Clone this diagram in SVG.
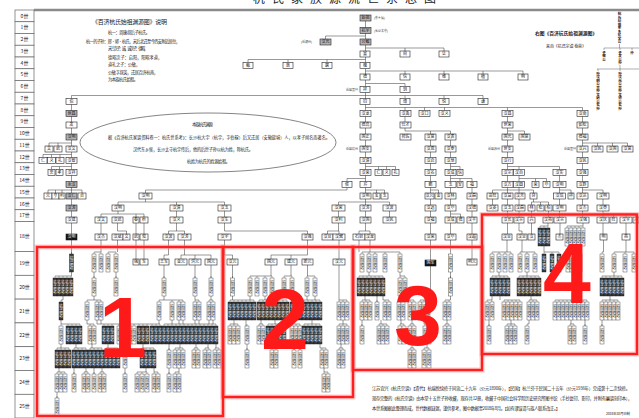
<svg xmlns="http://www.w3.org/2000/svg" width="639" height="418" viewBox="0 0 639 418">
<style>
.gc rect{fill:#fff;stroke:#666;stroke-width:.7}
.gc text{font-family:"Noto Sans CJK SC",sans-serif;font-size:5px;text-anchor:middle;fill:#222}
.n rect{fill:#fff;stroke:#222;stroke-width:.6}
.n text{font-family:"Noto Sans CJK SC",sans-serif;font-size:4px;text-anchor:middle;fill:#111}
.g rect{fill:#b4b4b4}
.k2 rect{fill:#111}.k2 text{fill:#fff}
.c path{fill:none;stroke:#333;stroke-width:.5}
.tk{fill:none;stroke:#333;stroke-width:.4}
.sr{fill:#fff;stroke:#333;stroke-width:.4}
.kr{fill:#3a3a3a;stroke:#111;stroke-width:.4}
.vt{font-family:"Noto Sans CJK SC",sans-serif;font-size:3.6px;writing-mode:vertical-rl;fill:#222}
.vw{fill:#fff}
.tx{font-family:"Noto Sans CJK SC",sans-serif;fill:#222}
.lb{font-family:"Noto Sans CJK SC",sans-serif;font-size:3px;fill:#333}
.vm{font-family:"Noto Sans CJK SC",sans-serif;font-size:3.5px;writing-mode:vertical-rl;fill:#111;font-weight:bold}
.redh{fill:none;stroke:#ff8a8a;stroke-width:5;opacity:.45}
.red{fill:none;stroke:#ff1f1f;stroke-width:2.4}
.big{font-family:"Liberation Sans",Arial,sans-serif;font-weight:bold;font-size:86px;fill:#ff1a1a;text-anchor:middle}
</style>
<defs>
<g id="s"><path class="tk" d="M2,-2V0"/><rect class="sr" width="4" height="18"/><text class="vt" x="2" y="1.5">杭国明远</text></g>
<g id="k"><path class="tk" d="M2,-2V0"/><rect class="kr" width="4" height="18"/><text class="vt vw" x="2" y="1.5">杭汉明远</text></g>
</defs>
<rect width="639" height="418" fill="#fff"/>
<text class="tx" x="253" y="3" font-size="12" letter-spacing="7" fill="#333">杭氏家族源流世系总图</text>
<line x1="34" y1="10" x2="639" y2="10" stroke="#8a8a8a" stroke-width="2.5"/>

<g id="gen" class="gc">
<rect x="15" y="10" width="19" height="11.75"/><text x="24.5" y="17.6">0世</text>
<rect x="15" y="21.75" width="19" height="11.75"/><text x="24.5" y="29.35">1世</text>
<rect x="15" y="33.5" width="19" height="11.75"/><text x="24.5" y="41.1">2世</text>
<rect x="15" y="45.25" width="19" height="11.75"/><text x="24.5" y="52.85">3世</text>
<rect x="15" y="57" width="19" height="11.75"/><text x="24.5" y="64.6">4世</text>
<rect x="15" y="68.75" width="19" height="11.75"/><text x="24.5" y="76.35">5世</text>
<rect x="15" y="80.5" width="19" height="11.75"/><text x="24.5" y="88.1">6世</text>
<rect x="15" y="92.25" width="19" height="11.75"/><text x="24.5" y="99.85">7世</text>
<rect x="15" y="104" width="19" height="11.75"/><text x="24.5" y="111.6">8世</text>
<rect x="15" y="115.75" width="19" height="11.75"/><text x="24.5" y="123.35">9世</text>
<rect x="15" y="127.5" width="19" height="11.75"/><text x="24.5" y="135.1">10世</text>
<rect x="15" y="139.25" width="19" height="11.75"/><text x="24.5" y="146.85">11世</text>
<rect x="15" y="151" width="19" height="11.75"/><text x="24.5" y="158.6">12世</text>
<rect x="15" y="162.75" width="19" height="11.75"/><text x="24.5" y="170.35">13世</text>
<rect x="15" y="174.5" width="19" height="11.75"/><text x="24.5" y="182.1">14世</text>
<rect x="15" y="186.25" width="19" height="11.75"/><text x="24.5" y="193.85">15世</text>
<rect x="15" y="198" width="19" height="11.75"/><text x="24.5" y="205.6">16世</text>
<rect x="15" y="209.75" width="19" height="11.75"/><text x="24.5" y="217.35">17世</text>
<rect x="15" y="221.5" width="19" height="30"/><text x="24.5" y="238.4">18世</text>
<rect x="15" y="251.5" width="19" height="23.8"/><text x="24.5" y="265.2">19世</text>
<rect x="15" y="275.3" width="19" height="23.8"/><text x="24.5" y="289">20世</text>
<rect x="15" y="299.1" width="19" height="23.8"/><text x="24.5" y="312.8">21世</text>
<rect x="15" y="322.9" width="19" height="23.8"/><text x="24.5" y="336.6">22世</text>
<rect x="15" y="346.7" width="19" height="23.8"/><text x="24.5" y="360.4">23世</text>
<rect x="15" y="370.5" width="19" height="23.8"/><text x="24.5" y="384.2">24世</text>
<rect x="15" y="394.3" width="19" height="23.7"/><text x="24.5" y="408">25世</text>
</g>

<g id="notes" class="tx">
<text x="92" y="23.5" font-size="6" textLength="75">《百济杭氏始祖渊源图》说明</text>
<text x="108" y="33.5" font-size="4.2" textLength="42">杭一：周康叔后子杭氏。</text>
<text x="86" y="42.5" font-size="4.2" textLength="94">杭一的子孙：郑·郭·杭氏，宋后北迁至今西安附近居住，</text>
<text x="108" y="50" font-size="4.2" textLength="40">宋兰次子：诚，诚次子：德昭，</text>
<text x="108" y="58.5" font-size="4.2" textLength="54">德昭次子：启阳，阳昭孝道，</text>
<text x="108" y="65.5" font-size="4.2" textLength="32">道礼之子：公敏，</text>
<text x="108" y="73.5" font-size="4.2" textLength="50">公敏字叔英，迁居百济杭南，</text>
<text x="108" y="80.5" font-size="4.2" textLength="30">为本族杭氏始祖。</text>
</g>

<g id="origin">
<ellipse cx="208" cy="142.5" rx="128" ry="29.5" fill="none" stroke="#333" stroke-width=".6"/>
<text class="tx" x="192" y="125.5" font-size="4.4" textLength="21">本族杭氏渊源</text>
<text class="tx" x="108" y="138.5" font-size="4.2" textLength="222">据《百济杭氏家谱资料卷一：杭氏世系考》：长沙杭大宇（杭宇，字伯稼）后又迁居（安徽歙城）人，以孝子闻名而著名。</text>
<text class="tx" x="133" y="150.5" font-size="4.2" textLength="120">汉代东乡侯，长沙太守杭宇传后，他的后世子孙以杭为姓，称杭氏。</text>
<text class="tx" x="187" y="162.5" font-size="4.2" textLength="43">杭姓为杭氏的姓源始祖。</text>
</g>

<g id="rightnote" class="tx">
<text x="535" y="35" font-size="4.8" font-weight="bold" textLength="62">右图《百济杭氏始祖渊源图》</text>
<text x="546" y="47.5" font-size="4" textLength="40">来自《杭氏宗谱 卷首》</text>
</g>

<g id="mini">
<text class="vm" x="619.5" y="12">杭氏始祖东乡侯宇公</text>
<path class="tk" d="M619.5,44V48M604,48H639M604,48V50M620,48V50M632,48V50M620,65V69M597,69H639M598,69V71M620,69V71"/>
<text class="vm" x="604" y="50.5">子敬公</text>
<text class="vm" x="620" y="50.5">子发公孙</text>
<text class="vm" x="632" y="50.5">仲</text>
<text class="vm" x="598" y="71.5">孙汉明公曾孙文远公玄孙</text>
<text class="vm" x="620" y="71.5">孙汉光公曾孙文德公玄孙</text>
</g>

<g id="connectors" class="c">
<path d="M365.5,21V231M325.5,36H365.5M325.5,36V39M365.5,48H444M405,48V51M444,48V51M248,59.5H365.5M248,59.5V62.5M288,59.5V62.5M327,59.5V62.5M365.5,71H523M405,71V74M444,71V74M483,71V74M523,71V74M365.5,83.5H405V86.5M71.5,95.5H483M405,95.5V98.5M444,95.5V98.5M483,95.5V98.5M71.5,95.5V254M365.5,107.5H582.5M405,107.5V110.5M424.5,107.5V110.5M444.5,107.5V110.5M507.5,107.5V234M582.5,107.5V223M405,110.5V131H450.5M430.5,131V266M450.5,131V252M507.5,131H524.5V134"/>
<path d="M49,143H71.5M49,143V146M58,143V146M582.5,143H627.5M597.5,143V146M612.5,143V146M627.5,143V146M43,154.5H71.5M43,154.5V157.5M51.5,154.5V157.5M60,154.5V157.5M51.5,166.5H71.5M51.5,166.5V169.5M59.5,166.5V169.5M365.5,166.5H395.5M378.5,166.5V169.5M386.5,166.5V169.5M395.5,166.5V169.5M450.5,166.5H460V169.5M507.5,166.5H559.5M519,166.5V223M559.5,166.5V217"/>
<path d="M347,178.5H365.5M347,178.5V181.5M450.5,178.5H472M460,178.5V181.5M472,178.5V259M519,178.5H546.5M535.5,178.5V181.5M546.5,178.5V181.5M48,190H82M48,190V193M55.5,190V193M62,190V193M82,190V193M347,187.5V190H145.5V193M365.5,190H384.5M376.5,190V193M384.5,190V193M430.5,190H438.5V193M492.5,190H533.5M492.5,190V205M533.5,190V202M559.5,190H571V193M582.5,190H603V217"/>
<path d="M145.5,199V202M118,202H224.5M118,202V205M176.5,202V205M224.5,202V205M338.5,202H389.5M338.5,202V205M389.5,202V205M531.5,202H548.5M531.5,202V205M540.5,202V205M548.5,202V205"/>
<path d="M118,211V214M101,214H144M101,214V217M136,214V217M144,214V217M176.5,211V217M224.5,211V217M338.5,211V217M389.5,211V217M450.5,214H460.5V217M531.5,211V217M548.5,211V217M603,214H636M613.5,214V217M626,214V217M636,214V217"/>
<path d="M101,223V234M117.5,223V231M117.5,231H126.5V234M136,223V234M144,223V234M176.5,223V231M168.5,231H184.5M168.5,231V234M184.5,231V234M224.5,223V231H307.5V234M338.5,223V231M327.5,231H339M327.5,231V234M339,231V234M359,231H370M359,231V234M370,231V234M519,223V231H522V234M531.5,223V234M548,223V226M540,226H548M560,223V234M583,223V226M567,226H583M603,223V234M626,223V234"/>
<path d="M101,240V252M94,252H101M117.5,240V252M108,252H116M136,240V259M144,240V259M168.5,240V255H164V259M184.5,240V255M181,255H211M181,255V259M195,255V259M211,255V259M224.5,240V255H232.5V259M307.5,240V255M271,255H307.5M271,255V259M291,255V259M339,240V259M359,240V252M370,240V252M362,252H400M507,240V252M492,252H511M522,240V252M520,252H535M544,246V252M544,252H559M574,246V252M568,252H580M603.5,240V252H602M626,240V252M614,252H634"/>
<path d="M71.5,272V276M55,276H71.5M94,272V278M116,272V278M164,265V278M195,265V278M211,265V278M232.5,265V278M271,265V276M250,276H272M291,265V276M284,276H292M307.5,265V276M307,276H315M369,272V276M359,276H383M400,272V276M400,276H405M450.5,272V278M499,272V276M492,276H508M527,272V276M519,276H539M576,272V276M575,276H579M614,272V276M602,276H622"/>
<path d="M63,296V300M61,300H63M94,296V300M87,300H101M164,296V300M159,300H183M195,296V300M195,300H199M211,296V300M209,300H213M232.5,296V300M250,296V300M230,300H254M265,296V300M272,296V300M259,300H287M292,296V300M307,296V300M315,296V300M292,300H320M339,265V300M339,300H347M365,296V300M362,300H370M377,296V302M383,296V300M383,300H389M400,296V300M399,300H403M405,296V300M405,300H414M430.5,266V300M420,300H430.5M450.5,296V300M445,300H450.5M492,296V300M487,300H492M500,296V300M504,300H520M531,296V300M529,300H537M577,296V300M555,300H587M610,296V300M602,300H618"/>
<path d="M61,320V324M61,324H80M87,320V324M87,324H94M97,320V324M101,320V324M97,324H123M159,320V324M130,324H160M172,320V324M179,320V324M183,320V324M195,320V324M199,320V324M209,320V324M213,320V324M164,324H216M234,320V324M230,324H238M246,320V326M261,320V324M259,324H263M275,320V324M268,324H284M292,320V324M292,324H300M312,320V324M304,324H320M343,320V324M339,324H347M362,320V326M381,320V324M379,324H387M401,320V324M400,324H404M412,320V324M410,324H414M424,320V324M424,324H429M447,320V324M445,324H449M489,320V326M511,320V324M507,324H515M529,320V324H527M571,320V324M570,324H574M585,320V326M602,320V326"/>
<path d="M61,344V348M57,348H69M76,344V348M74,348H86M92,344V348M90,348H102M108,344V348M106,348H118M125,344V350M143,344V348M142,348H154M169,344V350M180,344V348M175,348H183M196,344V348M194,348H198M208,344V348M205,348H209M216,344V348M215,348H219M247,344V350M272,344V348M272,348H276M294,344V350M300,344V350M320,344V348M320,348H326M341,344V348M339,348H343M412,344V348M410,348H414M427,344V348M424,348H429"/>
<path d="M59,368V372M57,372H65M74,368V374M86,368V372M84,372H88M94,368V374M102,368V372M100,372H104M125,368V374M146,368V372M137,372H147M154,368V372M154,372H158M169,368V374M179,368V372M175,372H179M324,368V372M324,372H328M57,392V398"/>
</g>

<g id="nodes">
<g id="a0" class="n g"><rect x="360" y="15" width="11" height="6"/><text x="365.5" y="19.4">始祖</text></g>
<g id="a1" class="n g"><rect x="360" y="27.5" width="11" height="6"/><text x="365.5" y="31.9">杭宇</text></g>
<g id="a2" class="n g"><rect x="320" y="39" width="11" height="6"/><text x="325.5" y="43.4">汉光</text></g>
<g id="a3" class="n g"><rect x="360" y="39" width="11" height="6"/><text x="365.5" y="43.4">公敏</text></g>
<g id="a4" class="n"><rect x="360" y="51" width="10" height="6"/><text x="365" y="55.4">宣</text></g>
<g id="a5" class="n"><rect x="400" y="51" width="10" height="6"/><text x="405" y="55.4">尚</text></g>
<g id="a6" class="n"><rect x="439" y="51" width="10" height="6"/><text x="444" y="55.4">让</text></g>
<g id="a7" class="n"><rect x="243" y="62.5" width="10" height="6"/><text x="248" y="66.9">甄</text></g>
<g id="a8" class="n"><rect x="283" y="62.5" width="10" height="6"/><text x="288" y="66.9">敦</text></g>
<g id="a9" class="n"><rect x="322" y="62.5" width="10" height="6"/><text x="327" y="66.9">屠</text></g>
<g id="a10" class="n"><rect x="360" y="62.5" width="10" height="6"/><text x="365" y="66.9">槐</text></g>
<g id="a11" class="n"><rect x="360" y="74" width="10" height="6"/><text x="365" y="78.4">德</text></g>
<g id="a12" class="n"><rect x="400" y="74" width="10" height="6"/><text x="405" y="78.4">信</text></g>
<g id="a13" class="n"><rect x="439" y="74" width="10" height="6"/><text x="444" y="78.4">维</text></g>
<g id="a14" class="n"><rect x="478" y="74" width="10" height="6"/><text x="483" y="78.4">植</text></g>
<g id="a15" class="n"><rect x="518" y="74" width="10" height="6"/><text x="523" y="78.4">明</text></g>
<g id="a16" class="n"><rect x="360" y="86.5" width="10" height="6"/><text x="365" y="90.9">祥</text></g>
<g id="a17" class="n"><rect x="400" y="86.5" width="10" height="6"/><text x="405" y="90.9">玥</text></g>
<g id="a18" class="n"><rect x="66" y="98.5" width="11" height="6"/><text x="71.5" y="102.9">伯</text></g>
<g id="a19" class="n"><rect x="360" y="98.5" width="10" height="6"/><text x="365" y="102.9">钧</text></g>
<g id="a20" class="n"><rect x="400" y="98.5" width="10" height="6"/><text x="405" y="102.9">博</text></g>
<g id="a21" class="n"><rect x="439" y="98.5" width="10" height="6"/><text x="444" y="102.9">悦</text></g>
<g id="a22" class="n"><rect x="478" y="98.5" width="10" height="6"/><text x="483" y="102.9">谦</text></g>
<g id="a23" class="n g"><rect x="66" y="110.5" width="11" height="6"/><text x="71.5" y="114.9">世昌</text></g>
<g id="a24" class="n"><rect x="360" y="110.5" width="11" height="6"/><text x="365.5" y="114.9">汉龙</text></g>
<g id="a25" class="n"><rect x="400" y="110.5" width="11" height="6"/><text x="405.5" y="114.9">汉禹</text></g>
<g id="a26" class="n"><rect x="419" y="110.5" width="11" height="6"/><text x="424.5" y="114.9">汉口</text></g>
<g id="a27" class="n"><rect x="439" y="110.5" width="11" height="6"/><text x="444.5" y="114.9">汉义</text></g>
<g id="a28" class="n"><rect x="502" y="110.5" width="11" height="6"/><text x="507.5" y="114.9">汉昌</text></g>
<g id="a29" class="n"><rect x="577" y="110.5" width="11" height="6"/><text x="582.5" y="114.9">汉南</text></g>
<g id="a30" class="n"><rect x="66" y="122" width="11" height="6"/><text x="71.5" y="126.4">发</text></g>
<g id="a31" class="n"><rect x="360" y="122" width="11" height="6"/><text x="365.5" y="126.4">德高</text></g>
<g id="a32" class="n"><rect x="400" y="122" width="11" height="6"/><text x="405.5" y="126.4">仕才</text></g>
<g id="a33" class="n"><rect x="502" y="122" width="11" height="6"/><text x="507.5" y="126.4">世荣</text></g>
<g id="a34" class="n"><rect x="577" y="122" width="11" height="6"/><text x="582.5" y="126.4">如松</text></g>
<g id="a35" class="n g"><rect x="66" y="134" width="11" height="6"/><text x="71.5" y="138.4">汉明</text></g>
<g id="a36" class="n"><rect x="360" y="134" width="11" height="6"/><text x="365.5" y="138.4">国正</text></g>
<g id="a37" class="n"><rect x="400" y="134" width="11" height="6"/><text x="405.5" y="138.4">邦佐</text></g>
<g id="a38" class="n"><rect x="425" y="134" width="11" height="6"/><text x="430.5" y="138.4">汉富</text></g>
<g id="a39" class="n"><rect x="445" y="134" width="11" height="6"/><text x="450.5" y="138.4">汉贵</text></g>
<g id="a40" class="n"><rect x="502" y="134" width="11" height="6"/><text x="507.5" y="138.4">国光</text></g>
<g id="a41" class="n"><rect x="519" y="134" width="11" height="6"/><text x="524.5" y="138.4">国富</text></g>
<g id="a42" class="n"><rect x="577" y="134" width="11" height="6"/><text x="582.5" y="138.4">德福</text></g>
<g id="a43" class="n"><rect x="45" y="146" width="8" height="6"/><text x="49" y="150.4">文</text></g>
<g id="a44" class="n"><rect x="54" y="146" width="8" height="6"/><text x="58" y="150.4">武</text></g>
<g id="a45" class="n"><rect x="66" y="146" width="11" height="6"/><text x="71.5" y="150.4">汉文</text></g>
<g id="a46" class="n"><rect x="360" y="146" width="11" height="6"/><text x="365.5" y="150.4">国安</text></g>
<g id="a47" class="n"><rect x="425" y="146" width="11" height="6"/><text x="430.5" y="150.4">汉恩</text></g>
<g id="a48" class="n"><rect x="445" y="146" width="11" height="6"/><text x="450.5" y="150.4">汉泰</text></g>
<g id="a49" class="n"><rect x="502" y="146" width="11" height="6"/><text x="507.5" y="150.4">世安</text></g>
<g id="a50" class="n"><rect x="577" y="146" width="11" height="6"/><text x="582.5" y="150.4">汉兴</text></g>
<g id="a51" class="n"><rect x="592" y="146" width="11" height="6"/><text x="597.5" y="150.4">汉民</text></g>
<g id="a52" class="n"><rect x="607" y="146" width="11" height="6"/><text x="612.5" y="150.4">汉国</text></g>
<g id="a53" class="n"><rect x="622" y="146" width="11" height="6"/><text x="627.5" y="150.4">汉富</text></g>
<g id="a54" class="n"><rect x="39" y="157.5" width="8" height="6"/><text x="43" y="161.9">仁</text></g>
<g id="a55" class="n"><rect x="47.5" y="157.5" width="8" height="6"/><text x="51.5" y="161.9">义</text></g>
<g id="a56" class="n"><rect x="56" y="157.5" width="8" height="6"/><text x="60" y="161.9">礼</text></g>
<g id="a57" class="n"><rect x="66" y="157.5" width="11" height="6"/><text x="71.5" y="161.9">汉智</text></g>
<g id="a58" class="n"><rect x="360" y="157.5" width="11" height="6"/><text x="365.5" y="161.9">汉清</text></g>
<g id="a59" class="n"><rect x="425" y="157.5" width="11" height="6"/><text x="430.5" y="161.9">汉启</text></g>
<g id="a60" class="n"><rect x="445" y="157.5" width="11" height="6"/><text x="450.5" y="161.9">汉泉</text></g>
<g id="a61" class="n"><rect x="502" y="157.5" width="11" height="6"/><text x="507.5" y="161.9">汉行</text></g>
<g id="a62" class="n"><rect x="577" y="157.5" width="11" height="6"/><text x="582.5" y="161.9">汉民</text></g>
<g id="a63" class="n"><rect x="48" y="169.5" width="7" height="6"/><text x="51.5" y="173.9">忠</text></g>
<g id="a64" class="n"><rect x="56" y="169.5" width="7" height="6"/><text x="59.5" y="173.9">孝</text></g>
<g id="a65" class="n"><rect x="66" y="169.5" width="11" height="6"/><text x="71.5" y="173.9">汉祥</text></g>
<g id="a66" class="n"><rect x="360" y="169.5" width="11" height="6"/><text x="365.5" y="173.9">汉荣</text></g>
<g id="a67" class="n"><rect x="375" y="169.5" width="7" height="6"/><text x="378.5" y="173.9">仁</text></g>
<g id="a68" class="n"><rect x="383" y="169.5" width="7" height="6"/><text x="386.5" y="173.9">义</text></g>
<g id="a69" class="n"><rect x="392" y="169.5" width="7" height="6"/><text x="395.5" y="173.9">礼</text></g>
<g id="a70" class="n"><rect x="425" y="169.5" width="11" height="6"/><text x="430.5" y="173.9">汉名</text></g>
<g id="a71" class="n"><rect x="445" y="169.5" width="11" height="6"/><text x="450.5" y="173.9">汉成</text></g>
<g id="a72" class="n"><rect x="457" y="169.5" width="6" height="6"/><text x="460" y="173.9">信</text></g>
<g id="a73" class="n"><rect x="502" y="169.5" width="11" height="6"/><text x="507.5" y="173.9">汉宗</text></g>
<g id="a74" class="n"><rect x="513.5" y="169.5" width="11" height="6"/><text x="519" y="173.9">汉自</text></g>
<g id="a75" class="n"><rect x="553" y="169.5" width="13" height="6"/><text x="559.5" y="173.9">汉实</text></g>
<g id="a76" class="n"><rect x="577" y="169.5" width="11" height="6"/><text x="582.5" y="173.9">汉强</text></g>
<g id="a77" class="n g"><rect x="66" y="181.5" width="11" height="6"/><text x="71.5" y="185.9">永汉</text></g>
<g id="a78" class="n"><rect x="342" y="181.5" width="10" height="6"/><text x="347" y="185.9">侯</text></g>
<g id="a79" class="n"><rect x="360" y="181.5" width="11" height="6"/><text x="365.5" y="185.9">芹</text></g>
<g id="a80" class="n"><rect x="425" y="181.5" width="11" height="6"/><text x="430.5" y="185.9">鹏</text></g>
<g id="a81" class="n"><rect x="445" y="181.5" width="11" height="6"/><text x="450.5" y="185.9">玉</text></g>
<g id="a82" class="n"><rect x="457" y="181.5" width="6" height="6"/><text x="460" y="185.9">安</text></g>
<g id="a83" class="n"><rect x="467" y="181.5" width="10" height="6"/><text x="472" y="185.9">福</text></g>
<g id="a84" class="n"><rect x="502" y="181.5" width="11" height="6"/><text x="507.5" y="185.9">汉方</text></g>
<g id="a85" class="n"><rect x="513.5" y="181.5" width="11" height="6"/><text x="519" y="185.9">汉圆</text></g>
<g id="a86" class="n"><rect x="532" y="181.5" width="7" height="6"/><text x="535.5" y="185.9">荣</text></g>
<g id="a87" class="n"><rect x="543" y="181.5" width="7" height="6"/><text x="546.5" y="185.9">华</text></g>
<g id="a88" class="n"><rect x="553" y="181.5" width="13" height="6"/><text x="559.5" y="185.9">汉明</text></g>
<g id="a89" class="n"><rect x="577" y="181.5" width="11" height="6"/><text x="582.5" y="185.9">汉群</text></g>
<g id="a90" class="n"><rect x="44" y="193" width="8" height="6"/><text x="48" y="197.4">元</text></g>
<g id="a91" class="n"><rect x="52" y="193" width="7" height="6"/><text x="55.5" y="197.4">亨</text></g>
<g id="a92" class="n"><rect x="59" y="193" width="6" height="6"/><text x="62" y="197.4">利</text></g>
<g id="a93" class="n g"><rect x="66" y="193" width="11" height="6"/><text x="71.5" y="197.4">汉仁</text></g>
<g id="a94" class="n"><rect x="78" y="193" width="8" height="6"/><text x="82" y="197.4">贞</text></g>
<g id="a95" class="n"><rect x="139" y="193" width="13" height="6"/><text x="145.5" y="197.4">汉明</text></g>
<g id="a96" class="n"><rect x="360" y="193" width="11" height="6"/><text x="365.5" y="197.4">汉明</text></g>
<g id="a97" class="n"><rect x="373" y="193" width="7" height="6"/><text x="376.5" y="197.4">宝</text></g>
<g id="a98" class="n"><rect x="381" y="193" width="7" height="6"/><text x="384.5" y="197.4">玉</text></g>
<g id="a99" class="n"><rect x="425" y="193" width="9" height="6"/><text x="429.5" y="197.4">汉元</text></g>
<g id="a100" class="n"><rect x="435" y="193" width="7" height="6"/><text x="438.5" y="197.4">金</text></g>
<g id="a101" class="n"><rect x="445" y="193" width="11" height="6"/><text x="450.5" y="197.4">汉林</text></g>
<g id="a102" class="n"><rect x="467" y="193" width="10" height="6"/><text x="472" y="197.4">汉森</text></g>
<g id="a103" class="n"><rect x="487" y="193" width="11" height="6"/><text x="492.5" y="197.4">苗旺</text></g>
<g id="a104" class="n"><rect x="502" y="193" width="11" height="6"/><text x="507.5" y="197.4">汉益</text></g>
<g id="a105" class="n"><rect x="515" y="193" width="10" height="6"/><text x="520" y="197.4">汉芳</text></g>
<g id="a106" class="n"><rect x="530" y="193" width="7" height="6"/><text x="533.5" y="197.4">芬</text></g>
<g id="a107" class="n"><rect x="553.5" y="193" width="12" height="6"/><text x="559.5" y="197.4">汉瑞</text></g>
<g id="a108" class="n"><rect x="568" y="193" width="6" height="6"/><text x="571" y="197.4">祥</text></g>
<g id="a109" class="n"><rect x="577" y="193" width="11" height="6"/><text x="582.5" y="197.4">汉达</text></g>
<g id="a110" class="n"><rect x="597" y="193" width="12" height="6"/><text x="603" y="197.4">汉明</text></g>
<g id="a111" class="n g"><rect x="66" y="205" width="11" height="6"/><text x="71.5" y="209.4">汉涛</text></g>
<g id="a112" class="n"><rect x="112" y="205" width="12" height="6"/><text x="118" y="209.4">汉明</text></g>
<g id="a113" class="n"><rect x="170" y="205" width="13" height="6"/><text x="176.5" y="209.4">汉清</text></g>
<g id="a114" class="n"><rect x="218" y="205" width="13" height="6"/><text x="224.5" y="209.4">汉玉</text></g>
<g id="a115" class="n"><rect x="332" y="205" width="13" height="6"/><text x="338.5" y="209.4">汉荣</text></g>
<g id="a116" class="n"><rect x="360" y="205" width="11" height="6"/><text x="365.5" y="209.4">汉涛</text></g>
<g id="a117" class="n"><rect x="383" y="205" width="13" height="6"/><text x="389.5" y="209.4">汉波</text></g>
<g id="a118" class="n"><rect x="425" y="205" width="11" height="6"/><text x="430.5" y="209.4">汉远</text></g>
<g id="a119" class="n"><rect x="445" y="205" width="11" height="6"/><text x="450.5" y="209.4">汉华</text></g>
<g id="a120" class="n"><rect x="467" y="205" width="10" height="6"/><text x="472" y="209.4">汉德</text></g>
<g id="a121" class="n"><rect x="487" y="205" width="11" height="6"/><text x="492.5" y="209.4">汉英</text></g>
<g id="a122" class="n"><rect x="502" y="205" width="11" height="6"/><text x="507.5" y="209.4">汉玉</text></g>
<g id="a123" class="n"><rect x="515" y="205" width="10" height="6"/><text x="520" y="209.4">汉森</text></g>
<g id="a124" class="n"><rect x="528" y="205" width="7" height="6"/><text x="531.5" y="209.4">林</text></g>
<g id="a125" class="n"><rect x="537" y="205" width="7" height="6"/><text x="540.5" y="209.4">松</text></g>
<g id="a126" class="n"><rect x="545" y="205" width="7" height="6"/><text x="548.5" y="209.4">柏</text></g>
<g id="a127" class="n"><rect x="553" y="205" width="13" height="6"/><text x="559.5" y="209.4">汉明</text></g>
<g id="a128" class="n"><rect x="577" y="205" width="11" height="6"/><text x="582.5" y="209.4">汉杰</text></g>
<g id="a129" class="n"><rect x="597" y="205" width="12" height="6"/><text x="603" y="209.4">汉豪</text></g>
<g id="a130" class="n"><rect x="66" y="217" width="11" height="6"/><text x="71.5" y="221.4">汉建</text></g>
<g id="a131" class="n"><rect x="95" y="217" width="12" height="6"/><text x="101" y="221.4">汉文</text></g>
<g id="a132" class="n"><rect x="112" y="217" width="11" height="6"/><text x="117.5" y="221.4">汉武</text></g>
<g id="a133" class="n"><rect x="133" y="217" width="6" height="6"/><text x="136" y="221.4">春</text></g>
<g id="a134" class="n"><rect x="140" y="217" width="8" height="6"/><text x="144" y="221.4">秋</text></g>
<g id="a135" class="n"><rect x="170" y="217" width="13" height="6"/><text x="176.5" y="221.4">汉义</text></g>
<g id="a136" class="n"><rect x="218" y="217" width="13" height="6"/><text x="224.5" y="221.4">汉生</text></g>
<g id="a137" class="n"><rect x="332" y="217" width="13" height="6"/><text x="338.5" y="221.4">汉利</text></g>
<g id="a138" class="n"><rect x="360" y="217" width="11" height="6"/><text x="365.5" y="221.4">汉国</text></g>
<g id="a139" class="n"><rect x="383" y="217" width="13" height="6"/><text x="389.5" y="221.4">汉民</text></g>
<g id="a140" class="n"><rect x="425" y="217" width="11" height="6"/><text x="430.5" y="221.4">汉福</text></g>
<g id="a141" class="n"><rect x="445" y="217" width="11" height="6"/><text x="450.5" y="221.4">汉成</text></g>
<g id="a142" class="n"><rect x="457" y="217" width="7" height="6"/><text x="460.5" y="221.4">德</text></g>
<g id="a143" class="n"><rect x="467" y="217" width="10" height="6"/><text x="472" y="221.4">汉平</text></g>
<g id="a144" class="n"><rect x="502" y="217" width="11" height="6"/><text x="507.5" y="221.4">汉长</text></g>
<g id="a145" class="n"><rect x="514" y="217" width="10" height="6"/><text x="519" y="221.4">汉宗</text></g>
<g id="a146" class="n"><rect x="528" y="217" width="7" height="6"/><text x="531.5" y="221.4">兴</text></g>
<g id="a147" class="n"><rect x="543" y="217" width="10" height="6"/><text x="548" y="221.4">汉亮</text></g>
<g id="a148" class="n"><rect x="554" y="217" width="12" height="6"/><text x="560" y="221.4">汉宗</text></g>
<g id="a149" class="n"><rect x="577" y="217" width="12" height="6"/><text x="583" y="221.4">汉强</text></g>
<g id="a150" class="n"><rect x="597" y="217" width="12" height="6"/><text x="603" y="221.4">汉庆</text></g>
<g id="a151" class="n"><rect x="610" y="217" width="7" height="6"/><text x="613.5" y="221.4">旺</text></g>
<g id="a152" class="n"><rect x="620" y="217" width="12" height="6"/><text x="626" y="221.4">汉宇</text></g>
<g id="a153" class="n"><rect x="633" y="217" width="6" height="6"/><text x="636" y="221.4">才</text></g>
<g id="a154" class="n k2"><rect x="66" y="234" width="11" height="6"/><text x="71.5" y="238.4">汉明</text></g>
<g id="a155" class="n"><rect x="95" y="234" width="12" height="6"/><text x="101" y="238.4">汉杰</text></g>
<g id="a156" class="n"><rect x="112" y="234" width="11" height="6"/><text x="117.5" y="238.4">汉斌</text></g>
<g id="a157" class="n"><rect x="123" y="234" width="7" height="6"/><text x="126.5" y="238.4">文</text></g>
<g id="a158" class="n"><rect x="133" y="234" width="6" height="6"/><text x="136" y="238.4">武</text></g>
<g id="a159" class="n"><rect x="140" y="234" width="8" height="6"/><text x="144" y="238.4">双</text></g>
<g id="a160" class="n"><rect x="163" y="234" width="11" height="6"/><text x="168.5" y="238.4">汉波</text></g>
<g id="a161" class="n"><rect x="178" y="234" width="13" height="6"/><text x="184.5" y="238.4">汉涛</text></g>
<g id="a162" class="n"><rect x="218" y="234" width="13" height="6"/><text x="224.5" y="238.4">汉宇</text></g>
<g id="a163" class="n"><rect x="302" y="234" width="11" height="6"/><text x="307.5" y="238.4">汉强</text></g>
<g id="a164" class="n"><rect x="322" y="234" width="11" height="6"/><text x="327.5" y="238.4">汉豆</text></g>
<g id="a165" class="n"><rect x="333" y="234" width="12" height="6"/><text x="339" y="238.4">汉酱</text></g>
<g id="a166" class="n"><rect x="353" y="234" width="12" height="6"/><text x="359" y="238.4">石剑</text></g>
<g id="a167" class="n"><rect x="365" y="234" width="10" height="6"/><text x="370" y="238.4">汉龙</text></g>
<g id="a168" class="n"><rect x="425" y="234" width="11" height="6"/><text x="430.5" y="238.4">汉荣</text></g>
<g id="a169" class="n"><rect x="445" y="234" width="11" height="6"/><text x="450.5" y="238.4">汉华</text></g>
<g id="a170" class="n"><rect x="467" y="234" width="10" height="6"/><text x="472" y="238.4">汉超</text></g>
<g id="a171" class="n"><rect x="502" y="234" width="10" height="6"/><text x="507" y="238.4">汉豆</text></g>
<g id="a172" class="n"><rect x="517" y="234" width="10" height="6"/><text x="522" y="238.4">汉豆</text></g>
<g id="a173" class="n"><rect x="528" y="234" width="7" height="6"/><text x="531.5" y="238.4">汉</text></g>
<g id="a174" class="n"><rect x="556" y="234" width="7" height="6"/><text x="559.5" y="238.4">杰</text></g>
<g id="a175" class="n"><rect x="600" y="234" width="7" height="6"/><text x="603.5" y="238.4">明</text></g>
<g id="a176" class="n"><rect x="622" y="234" width="8" height="6"/><text x="626" y="238.4">亮</text></g>
<g id="b1" class="n"><rect x="133" y="259" width="6" height="6"/><text x="136" y="263.4">强</text></g>
<g id="b2" class="n"><rect x="140" y="259" width="8" height="6"/><text x="144" y="263.4">军</text></g>
<g id="b3" class="n"><rect x="159" y="259" width="10" height="6"/><text x="164" y="263.4">王军</text></g>
<g id="b4" class="n"><rect x="175" y="259" width="12" height="6"/><text x="181" y="263.4">金元</text></g>
<g id="b5" class="n"><rect x="189" y="259" width="12" height="6"/><text x="195" y="263.4">洪元</text></g>
<g id="b6" class="n"><rect x="205" y="259" width="12" height="6"/><text x="211" y="263.4">国元</text></g>
<g id="b7" class="n"><rect x="227" y="259" width="11" height="6"/><text x="232.5" y="263.4">汉元</text></g>
<g id="b8" class="n"><rect x="265" y="259" width="12" height="6"/><text x="271" y="263.4">国元</text></g>
<g id="b9" class="n"><rect x="285" y="259" width="12" height="6"/><text x="291" y="263.4">建元</text></g>
<g id="b10" class="n"><rect x="302" y="259" width="11" height="6"/><text x="307.5" y="263.4">新元</text></g>
<g id="b11" class="n"><rect x="333" y="259" width="12" height="6"/><text x="339" y="263.4">汉元</text></g>
<g id="b12" class="n k2"><rect x="425" y="260" width="11" height="6"/><text x="430.5" y="264.4">国军</text></g>
<g id="b13" class="n"><rect x="467" y="259" width="10" height="6"/><text x="472" y="263.4">明元</text></g>
<g id="labels">
<text class="lb" x="374" y="19.4">(东乡侯)</text>
<text class="lb" x="374" y="31.9">(长沙太守)</text>
<text class="lb" x="301" y="43.4">(迁湖州)</text>
<text class="lb" x="358" y="90.9" text-anchor="end">迁居吴兴</text>
<text class="lb" x="358" y="150.4" text-anchor="end">迁居杭州</text>
<text class="lb" x="500" y="150.4" text-anchor="end">迁居苏州</text>
<text class="lb" x="576" y="150.4" text-anchor="end">迁居宜兴</text>
</g>
</g>

<g id="r18s" transform="translate(0,228)">
<use href="#k" x="538"/><use href="#k" x="542"/><use href="#k" x="546"/>
<use href="#s" x="565"/><use href="#s" x="569"/><use href="#s" x="573"/><use href="#s" x="577"/><use href="#s" x="581"/>
</g>
<g id="r19s" transform="translate(0,254)">
<use href="#k" x="69.5"/><use href="#s" x="92"/><use href="#s" x="99"/><use href="#s" x="106"/><use href="#s" x="114"/>
<use href="#s" x="360"/><use href="#s" x="367"/><use href="#s" x="373"/><use href="#s" x="383"/><use href="#s" x="398"/><use href="#s" x="448.5"/>
<use href="#s" x="490"/><use href="#s" x="497"/><use href="#s" x="503"/><use href="#s" x="509"/><use href="#s" x="518"/><use href="#s" x="525"/><use href="#s" x="533"/><use href="#k" x="542"/><use href="#k" x="550"/><use href="#k" x="557"/><use href="#s" x="566"/><use href="#s" x="570"/><use href="#s" x="574"/><use href="#s" x="578"/><use href="#s" x="600"/><use href="#s" x="612"/><use href="#s" x="623"/><use href="#s" x="632"/>
</g>
<g id="r20s" transform="translate(0,278)">
<use href="#k" x="53"/><use href="#k" x="57"/><use href="#k" x="61"/><use href="#k" x="65"/><use href="#k" x="69"/>
<use href="#s" x="92"/><use href="#s" x="114"/><use href="#s" x="162"/><use href="#s" x="193"/><use href="#s" x="209"/>
<use href="#s" x="230.5"/><use href="#s" x="248"/><use href="#s" x="255"/><use href="#s" x="263"/><use href="#s" x="270"/><use href="#s" x="282"/><use href="#s" x="290"/><use href="#s" x="305"/><use href="#s" x="313"/>
<use href="#k" x="357"/><use href="#k" x="361"/><use href="#k" x="365"/><use href="#k" x="369"/><use href="#k" x="373"/><use href="#k" x="377"/><use href="#k" x="381"/><use href="#s" x="398"/><use href="#s" x="403"/><use href="#s" x="448.5"/>
<use href="#k" x="490"/><use href="#k" x="494"/><use href="#k" x="498"/><use href="#k" x="502"/><use href="#k" x="506"/><use href="#k" x="517"/><use href="#k" x="521"/><use href="#k" x="525"/><use href="#k" x="529"/><use href="#k" x="533"/><use href="#k" x="537"/><use href="#s" x="573"/><use href="#s" x="577"/>
<use href="#k" x="600"/><use href="#k" x="604"/><use href="#k" x="608"/><use href="#k" x="612"/><use href="#k" x="616"/><use href="#k" x="620"/>
</g>
<g id="r21s" transform="translate(0,302)">
<use href="#k" x="59"/><use href="#s" x="85"/><use href="#s" x="95"/><use href="#s" x="99"/><use href="#s" x="157"/><use href="#s" x="170"/><use href="#s" x="177"/><use href="#s" x="181"/><use href="#s" x="193"/><use href="#s" x="197"/><use href="#s" x="207"/><use href="#s" x="211"/>
<use href="#k" x="228"/><use href="#k" x="232"/><use href="#k" x="236"/><use href="#k" x="240"/><use href="#k" x="244"/><use href="#k" x="248"/><use href="#k" x="252"/><use href="#k" x="257"/><use href="#k" x="261"/><use href="#k" x="265"/><use href="#k" x="269"/><use href="#k" x="273"/><use href="#k" x="277"/><use href="#k" x="281"/><use href="#k" x="285"/>
<use href="#k" x="290"/><use href="#k" x="294"/><use href="#k" x="298"/><use href="#k" x="302"/><use href="#k" x="306"/><use href="#k" x="310"/><use href="#k" x="314"/><use href="#k" x="318"/><use href="#s" x="337"/><use href="#s" x="341"/><use href="#s" x="345"/>
<use href="#s" x="360"/><use href="#s" x="364"/><use href="#s" x="368"/><use href="#s" x="375"/><use href="#s" x="383"/><use href="#s" x="387"/><use href="#s" x="397"/><use href="#s" x="401"/><use href="#s" x="408"/><use href="#s" x="412"/><use href="#s" x="418"/><use href="#s" x="422"/><use href="#s" x="426"/><use href="#s" x="443"/><use href="#s" x="447"/>
<use href="#s" x="485"/><use href="#s" x="490"/><use href="#s" x="502"/><use href="#s" x="506"/><use href="#s" x="510"/><use href="#s" x="514"/><use href="#s" x="518"/><use href="#s" x="527"/><use href="#s" x="531"/><use href="#s" x="535"/>
<use href="#s" x="553"/><use href="#s" x="557"/><use href="#s" x="561"/><use href="#s" x="565"/><use href="#s" x="569"/><use href="#s" x="573"/><use href="#s" x="577"/><use href="#s" x="581"/><use href="#s" x="585"/><use href="#s" x="600"/><use href="#s" x="604"/><use href="#s" x="608"/><use href="#s" x="612"/><use href="#s" x="616"/>
</g>
<g id="r22s" transform="translate(0,326)">
<use href="#s" x="59"/><use href="#k" x="66"/><use href="#k" x="70"/><use href="#k" x="74"/><use href="#k" x="78"/><use href="#s" x="88"/><use href="#s" x="92"/><use href="#k" x="102"/><use href="#k" x="106"/><use href="#k" x="110"/><use href="#s" x="117"/><use href="#s" x="121"/>
<use href="#s" x="128"/><use href="#s" x="132"/><use href="#k" x="137"/><use href="#k" x="141"/><use href="#k" x="145"/><use href="#k" x="150"/><use href="#k" x="154"/><use href="#k" x="158"/>
<use href="#k" x="162"/><use href="#k" x="166"/><use href="#k" x="170"/><use href="#k" x="174"/><use href="#k" x="178"/><use href="#k" x="182"/><use href="#k" x="186"/><use href="#k" x="190"/><use href="#k" x="194"/><use href="#k" x="198"/><use href="#k" x="202"/><use href="#k" x="206"/><use href="#k" x="210"/><use href="#k" x="214"/>
<use href="#s" x="228"/><use href="#s" x="232"/><use href="#s" x="236"/><use href="#s" x="245"/><use href="#s" x="257"/><use href="#s" x="261"/><use href="#k" x="266"/><use href="#k" x="270"/><use href="#k" x="274"/><use href="#k" x="278"/><use href="#k" x="282"/>
<use href="#s" x="290"/><use href="#s" x="294"/><use href="#s" x="298"/><use href="#k" x="302"/><use href="#k" x="306"/><use href="#k" x="310"/><use href="#k" x="314"/><use href="#k" x="318"/><use href="#s" x="337"/><use href="#s" x="341"/><use href="#s" x="345"/>
<use href="#s" x="360"/><use href="#s" x="377"/><use href="#s" x="381"/><use href="#s" x="385"/><use href="#s" x="398"/><use href="#s" x="402"/><use href="#s" x="408"/><use href="#s" x="412"/><use href="#s" x="423"/><use href="#s" x="427"/><use href="#s" x="443"/><use href="#s" x="447"/>
<use href="#s" x="487"/><use href="#s" x="505"/><use href="#s" x="509"/><use href="#s" x="513"/><use href="#s" x="525"/><use href="#s" x="568"/><use href="#s" x="572"/><use href="#s" x="583"/><use href="#s" x="600"/>
</g>
<g id="r23s" transform="translate(0,350)">
<use href="#k" x="55"/><use href="#k" x="59"/><use href="#k" x="63"/><use href="#k" x="67"/><use href="#k" x="72"/><use href="#k" x="76"/><use href="#k" x="80"/><use href="#k" x="84"/><use href="#k" x="88"/><use href="#k" x="92"/><use href="#k" x="96"/><use href="#k" x="100"/><use href="#k" x="104"/><use href="#k" x="108"/><use href="#k" x="112"/><use href="#k" x="116"/>
<use href="#s" x="123"/><use href="#k" x="140"/><use href="#k" x="144"/><use href="#k" x="148"/><use href="#k" x="152"/><use href="#s" x="167"/><use href="#s" x="173"/><use href="#s" x="177"/><use href="#s" x="181"/><use href="#s" x="192"/><use href="#s" x="196"/><use href="#s" x="203"/><use href="#s" x="207"/><use href="#s" x="213"/><use href="#s" x="217"/>
<use href="#s" x="245"/><use href="#s" x="270"/><use href="#s" x="274"/><use href="#s" x="292"/><use href="#s" x="298"/><use href="#s" x="320"/><use href="#s" x="324"/><use href="#s" x="337"/><use href="#s" x="341"/>
<use href="#s" x="408"/><use href="#s" x="412"/><use href="#s" x="422"/><use href="#s" x="427"/>
</g>
<g id="r24s" transform="translate(0,374)">
<use href="#s" x="55"/><use href="#s" x="59"/><use href="#s" x="63"/><use href="#s" x="72"/><use href="#s" x="82"/><use href="#s" x="86"/><use href="#s" x="92"/><use href="#s" x="98"/><use href="#s" x="102"/><use href="#s" x="123"/><use href="#s" x="135"/><use href="#s" x="140"/><use href="#s" x="145"/><use href="#s" x="152"/><use href="#s" x="156"/><use href="#s" x="167"/><use href="#s" x="173"/><use href="#s" x="177"/>
<use href="#s" x="322"/><use href="#s" x="326"/>
</g>
<g id="r25s" transform="translate(0,398)"><use href="#s" x="55"/></g>

<g id="footer" class="tx">
<text x="372" y="389.5" font-size="4.3" textLength="258">江苏宜兴《杭氏宗谱》【清代】杭端悦续修于同治二十九年（公元1890年），【民国】杭兰芬于民国二十五年（公元1936年）完成第十二次续修。</text>
<text x="372" y="399.5" font-size="4.3" textLength="260">现存完整的《杭氏宗谱》由本堂十五世子孙收藏，现存共12册，收藏于中国社会科学院历史研究所图书馆（手抄复印、影印，并附有曩谱刻印本），</text>
<text x="372" y="409.5" font-size="4.3" textLength="188">本世系图据此整理而成，世代数据缺漏，谨供参考，图中数据至2018年8月。【如有谬误请与族人联系改正。】</text>
<text x="606" y="414.5" font-size="3.5" textLength="24">2018年10月日制</text>
</g>

<g id="regions">
<rect class="redh" x="37" y="247" width="186" height="169"/>
<rect class="redh" x="223" y="247" width="130" height="150"/>
<rect class="redh" x="353" y="247" width="129" height="123"/>
<rect class="redh" x="482" y="214.5" width="155" height="139.5"/>
<rect class="red" x="37" y="247" width="186" height="169"/>
<rect class="red" x="223" y="247" width="130" height="150"/>
<rect class="red" x="353" y="247" width="129" height="123"/>
<rect class="red" x="482" y="214.5" width="155" height="139.5"/>
<text class="big" x="123" y="357">1</text>
<text class="big" x="285" y="349">2</text>
<text class="big" x="418" y="345">3</text>
<text class="big" x="567" y="303">4</text>
</g>
</svg>
